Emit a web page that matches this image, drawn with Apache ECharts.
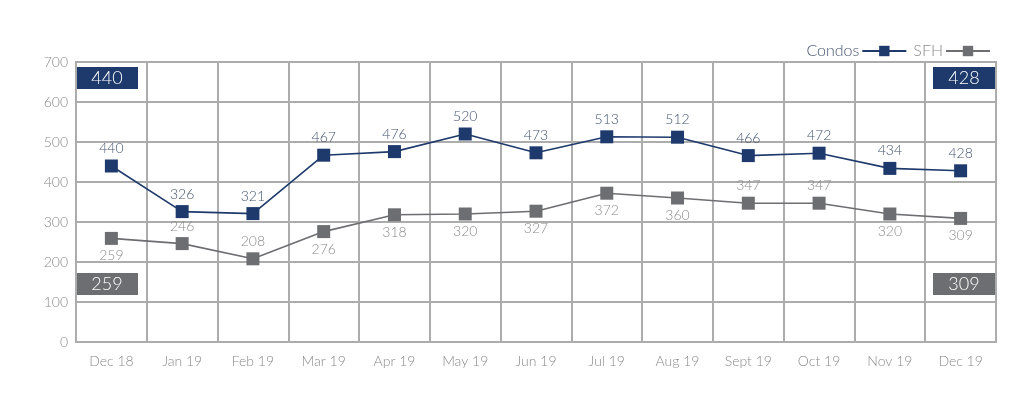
<!DOCTYPE html>
<html>
<head>
<meta charset="utf-8">
<script src="https://cdn.jsdelivr.net/npm/echarts@6/dist/echarts.min.js"></script>
<style>
  html, body { margin: 0; padding: 0; background: #fff; }
  #chart { width: 1024px; height: 398px; }
</style>
</head>
<body>
<div id="chart"></div>
<script>
const months = ["Dec 18", "Jan 19", "Feb 19", "Mar 19", "Apr 19", "May 19", "Jun 19",
  "Jul 19", "Aug 19", "Sept 19", "Oct 19", "Nov 19", "Dec 19"];
const condos = [440, 326, 321, 467, 476, 520, 473, 513, 512, 466, 472, 434, 428];
const sfh = [259, 246, 208, 276, 318, 320, 327, 372, 360, 347, 347, 320, 309];
// which SFH labels sit above the marker
const sfhLabelTop = [false, true, true, false, false, false, false, false, false, true, true, false, false];

const NAVY = "#1e3a6c";
const GREY = "#6d6e71";
const FONT = "Lato";

const chart = echarts.init(document.getElementById("chart"));

function box(x, y, value, color) {
  return {
    type: "group",
    left: x,
    top: y,
    children: [
      { type: "rect", shape: { x: 0, y: 0, width: 62, height: 22 }, style: { fill: color } },
      {
        type: "text",
        x: 31, y: 11,
        style: {
          text: String(value), fill: "#fff", font: "300 18px " + FONT,
          align: "center", verticalAlign: "middle"
        }
      }
    ]
  };
}

const option = {
  animation: false,
  textStyle: { fontFamily: FONT, fontWeight: 300 },
  grid: { left: 76, right: 28, top: 62, bottom: 56, show: true, borderColor: "#acacac", borderWidth: 2 },
  legend: {
    right: 28,
    top: 38,
    align: "right",
    itemWidth: 44,
    itemHeight: 13,
    itemGap: 6,
    textStyle: { fontSize: 16, fontFamily: FONT, fontWeight: 300, padding: [0, -2, 0, 0] },
    data: [
      { name: "Condos", textStyle: { color: "#44546f" } },
      { name: "SFH", textStyle: { color: "#8c8c8c" } }
    ]
  },
  xAxis: {
    type: "category",
    data: months,
    boundaryGap: true,
    axisLine: { show: true, lineStyle: { color: "#acacac", width: 2 } },
    axisTick: { show: false },
    splitLine: { show: true, lineStyle: { color: "#acacac", width: 2 } },
    axisLabel: { color: "#8a8a8a", fontSize: 14, margin: 12, fontFamily: FONT, fontWeight: 300 }
  },
  yAxis: {
    type: "value",
    min: 0,
    max: 700,
    interval: 100,
    axisLine: { show: false },
    axisTick: { show: false },
    splitLine: { lineStyle: { color: "#acacac", width: 2 } },
    axisLabel: { color: "#8a8a8a", fontSize: 14, margin: 8, fontFamily: FONT, fontWeight: 300 }
  },
  series: [
    {
      name: "Condos",
      type: "line",
      data: condos,
      symbol: "rect",
      symbolSize: 13,
      lineStyle: { color: NAVY, width: 1.6 },
      itemStyle: { color: NAVY },
      label: { show: true, position: "top", distance: 4, color: "#44546f", fontSize: 14, fontFamily: FONT, fontWeight: 300 }
    },
    {
      name: "SFH",
      type: "line",
      data: sfh.map((v, i) => ({
        value: v,
        label: { position: sfhLabelTop[i] ? "top" : "bottom" }
      })),
      symbol: "rect",
      symbolSize: 13,
      lineStyle: { color: GREY, width: 1.6 },
      itemStyle: { color: GREY },
      label: { show: true, distance: 4, color: "#8c8c8c", fontSize: 14, fontFamily: FONT, fontWeight: 300 }
    }
  ],
  graphic: [
    box(76, 67, condos[0], NAVY),
    box(933, 67, condos[condos.length - 1], NAVY),
    box(76, 273, sfh[0], GREY),
    box(933, 273, sfh[sfh.length - 1], GREY)
  ]
};

chart.setOption(option);
</script>
</body>
</html>
